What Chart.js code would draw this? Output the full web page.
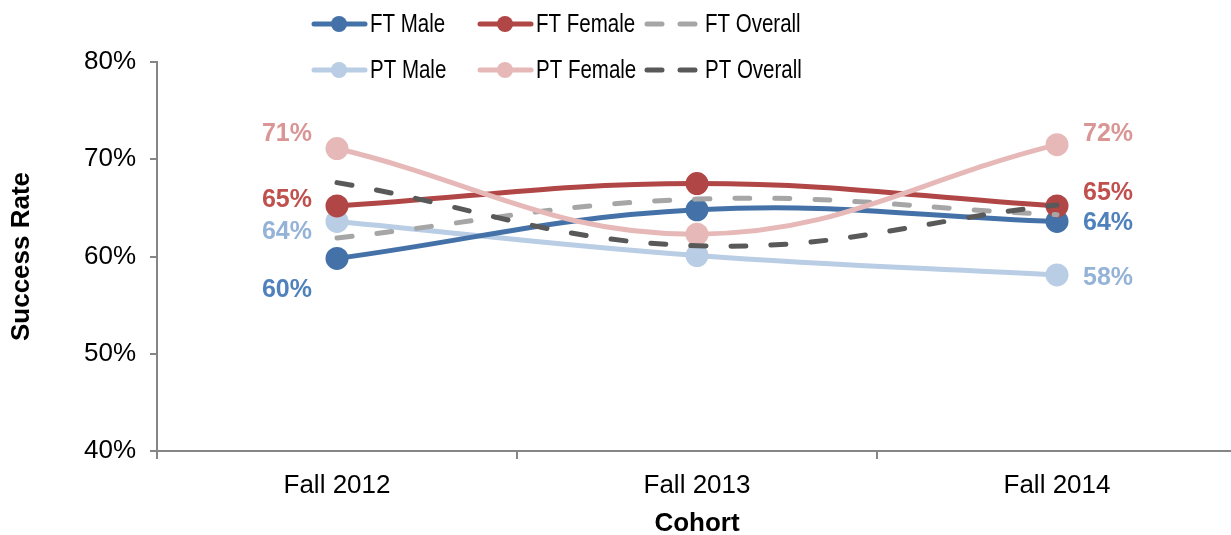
<!DOCTYPE html>
<html>
<head>
<meta charset="utf-8">
<script src="https://cdn.jsdelivr.net/npm/chart.js@4"></script>
<style>
  html, body { margin: 0; padding: 0; background: #fff; overflow: hidden; }
</style>
</head>
<body>
<canvas id="chart" width="1251" height="535"></canvas>
<script>
const cohorts = ["Fall 2012", "Fall 2013", "Fall 2014"];

const ftMale    = [59.8, 64.8, 63.6];
const ftFemale  = [65.2, 67.5, 65.2];
const ftOverall = [61.9, 65.9, 64.3];
const ptMale    = [63.6, 60.1, 58.1];
const ptFemale  = [71.1, 62.3, 71.5];
const ptOverall = [67.6, 61.1, 65.3];

const FONT = "'Liberation Sans', Arial, sans-serif";

// Label placement next to first/last point: [dx, dy] per end
const labelOffsets = {
  "FT Male":   [[-25, 31], [26, 1]],
  "FT Female": [[-25, -7], [26, -14]],
  "PT Male":   [[-25, 10], [26, 2]],
  "PT Female": [[-25, -15], [26, -12]]
};
const labelColors = {
  "FT Male": "#4F81BD", "FT Female": "#C0504D",
  "PT Male": "#95B3D7", "PT Female": "#D99694"
};

function solid(label, data, color, order) {
  return {
    label, data, borderColor: color, backgroundColor: color,
    pointBackgroundColor: color, pointBorderColor: color,
    borderWidth: 5, pointRadius: 9, pointHoverRadius: 9,
    tension: 0.4, order
  };
}
function dashed(label, data, color, order) {
  return {
    label, data, borderColor: color, backgroundColor: color,
    borderWidth: 5, borderDash: [15, 25], borderCapStyle: "round",
    pointRadius: 0, tension: 0.4, order, dashed: true
  };
}

const datasets = [
  solid("FT Male", ftMale, "#4472A8", 5),
  solid("FT Female", ftFemale, "#B04645", 4),
  dashed("FT Overall", ftOverall, "#A6A6A6", 3),
  solid("PT Male", ptMale, "#B9CDE5", 6),
  solid("PT Female", ptFemale, "#E6B9B8", 2),
  dashed("PT Overall", ptOverall, "#595959", 1)
];

// Two-row legend in Excel style: line with a marker, or two dashes
const legendPlugin = {
  id: "excelLegend",
  afterDraw(chart) {
    const ctx = chart.ctx;
    const cols = [312, 478, 645];
    const rows = [24, 70];
    ctx.save();
    ctx.font = "25px " + FONT;
    ctx.textBaseline = "middle";
    datasets.forEach((ds, i) => {
      const x = cols[i % 3], y = rows[Math.floor(i / 3)];
      ctx.strokeStyle = ds.borderColor;
      ctx.lineWidth = 5;
      ctx.lineCap = "round";
      let tx;
      if (ds.dashed) {
        ctx.beginPath();
        ctx.moveTo(x + 2, y); ctx.lineTo(x + 17, y);
        ctx.moveTo(x + 35, y); ctx.lineTo(x + 50, y);
        ctx.stroke();
        tx = x + 60;
      } else {
        ctx.beginPath();
        ctx.moveTo(x + 2, y); ctx.lineTo(x + 53, y);
        ctx.stroke();
        ctx.beginPath();
        ctx.fillStyle = ds.borderColor;
        ctx.arc(x + 27, y, 8, 0, Math.PI * 2);
        ctx.fill();
        tx = x + 58;
      }
      // legend text in the reference is horizontally condensed
      ctx.save();
      ctx.translate(tx, y + 1);
      ctx.scale(0.82, 1);
      ctx.fillStyle = "#000";
      ctx.fillText(ds.label, 0, 0);
      ctx.restore();
    });
    ctx.restore();
  }
};

const valueLabels = {
  id: "valueLabels",
  afterDatasetsDraw(chart) {
    const ctx = chart.ctx;
    ctx.save();
    ctx.font = "bold 25px " + FONT;
    ctx.textBaseline = "middle";
    chart.data.datasets.forEach((ds, i) => {
      const offs = labelOffsets[ds.label];
      if (!offs) return;
      const pts = chart.getDatasetMeta(i).data;
      [0, pts.length - 1].forEach((idx, k) => {
        const [dx, dy] = offs[k];
        const p = pts[idx];
        ctx.fillStyle = labelColors[ds.label];
        ctx.textAlign = dx < 0 ? "right" : "left";
        ctx.fillText(Math.round(ds.data[idx]) + "%", p.x + dx, p.y + dy + 1);
      });
    });
    ctx.restore();
  }
};

new Chart(document.getElementById("chart"), {
  type: "line",
  data: { labels: cohorts, datasets },
  plugins: [legendPlugin, valueLabels],
  options: {
    responsive: false,
    animation: false,
    layout: { padding: { top: 62, right: 1, left: 0, bottom: 0 } },
    plugins: { legend: { display: false }, tooltip: { enabled: false } },
    scales: {
      x: {
        offset: true,
        border: { color: "#868686", width: 2 },
        grid: { offset: true, drawOnChartArea: false, drawTicks: true, tickLength: 8, color: "#868686", lineWidth: 2 },
        ticks: { color: "#000", font: { family: FONT, size: 26 }, padding: 11 },
        title: { display: true, text: "Cohort", color: "#000", font: { family: FONT, size: 26, weight: "bold", lineHeight: 0.85 }, padding: { top: 0, bottom: 0 } },
        afterFit: (s) => { s.height = 84; }
      },
      y: {
        min: 40, max: 80,
        border: { color: "#868686", width: 2 },
        grid: { drawOnChartArea: false, drawTicks: true, tickLength: 7, color: "#868686", lineWidth: 2 },
        ticks: { stepSize: 10, color: "#000", font: { family: FONT, size: 26 }, padding: 14, callback: v => v + "%" },
        title: { display: true, text: "Success Rate", color: "#000", font: { family: FONT, size: 26, weight: "bold" }, padding: { top: 6, bottom: 30 } },
        afterFit: (s) => { s.width = 157; }
      }
    }
  }
});
</script>
</body>
</html>
